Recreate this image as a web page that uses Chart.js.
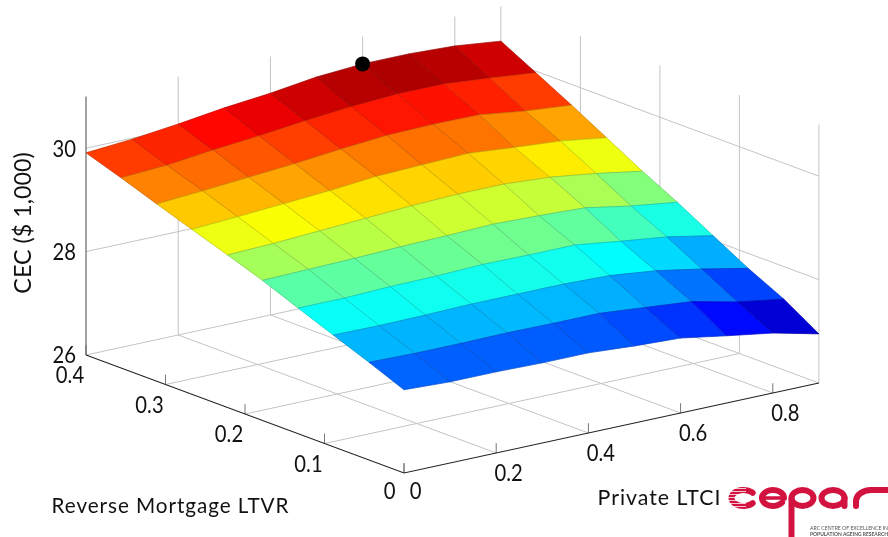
<!DOCTYPE html>
<html>
<head>
<meta charset="utf-8">
<title>CEC surface</title>
<script src="https://cdn.jsdelivr.net/npm/chart.js@4/dist/chart.umd.min.js"></script>
<style>
html, body { margin: 0; padding: 0; background: #fff; }
canvas { display: block; }
</style>
</head>
<body>
<canvas id="surf" width="888" height="537"></canvas>
<script>
// values
const ltciValues = [0, 0.1, 0.2, 0.3, 0.4, 0.5, 0.6, 0.7, 0.8, 0.9];
const ltvrValues = [0, 0.044, 0.089, 0.133, 0.178, 0.222, 0.267, 0.311, 0.356, 0.4];
// one row per LTVR value, one column per LTCI value
const cec0 = [27.61, 27.57, 27.57, 27.55, 27.55, 27.49, 27.45, 27.30, 27.16, 26.95];
const cec1 = [27.89, 27.87, 27.87, 27.88, 27.87, 27.87, 27.79, 27.71, 27.51, 27.37];
const cec2 = [28.16, 28.15, 28.16, 28.18, 28.18, 28.18, 28.15, 28.05, 27.89, 27.71];
const cec3 = [28.43, 28.43, 28.46, 28.47, 28.50, 28.49, 28.49, 28.37, 28.26, 28.09];
const cec4 = [28.71, 28.73, 28.75, 28.78, 28.80, 28.83, 28.80, 28.76, 28.60, 28.48];
const cec5 = [28.95, 28.98, 29.03, 29.08, 29.13, 29.16, 29.16, 29.10, 28.98, 28.83];
const cec6 = [29.19, 29.24, 29.30, 29.36, 29.44, 29.47, 29.50, 29.42, 29.35, 29.22];
const cec7 = [29.43, 29.49, 29.56, 29.63, 29.72, 29.79, 29.81, 29.80, 29.68, 29.60];
const cec8 = [29.68, 29.73, 29.83, 29.91, 30.01, 30.09, 30.14, 30.14, 30.06, 29.97];
const cec9 = [29.91, 29.98, 30.08, 30.20, 30.29, 30.41, 30.47, 30.47, 30.43, 30.33];
const cecRows = [cec0, cec1, cec2, cec3, cec4, cec5, cec6, cec7, cec8, cec9];

const optimum = [0.6, 0.4, 30.47]; // ltci, ltvr, cec

const ltciTicks = [0, 0.2, 0.4, 0.6, 0.8];
const ltvrTicks = [0, 0.1, 0.2, 0.3, 0.4];
const cecTicks = [26, 28, 30];
const ltciLabels = ['0', '0.2', '0.4', '0.6', '0.8'];
const ltvrLabels = ['0', '0.1', '0.2', '0.3', '0.4'];
const cecLabels = ['26', '28', '30'];

const ltciMax = 0.9, ltvrMax = 0.4, cecMin = 26, cecMax = 31;

// fixed view of the 3d box, gives values on the hidden x and y scales
function proj(ltci, ltvr, z) {
    return {
        x: 404 + 461 * ltci - 795 * ltvr,
        y: 473 - 100 * ltci - 295 * ltvr - 51.7 * (z - cecMin)
    };
}

// jet colormap
const jetStops = [[0, 0, 0, 0.5], [0.125, 0, 0, 1], [0.375, 0, 1, 1], [0.625, 1, 1, 0], [0.875, 1, 0, 0], [1, 0.5, 0, 0]];
function jet(t, dim) {
    t = Math.max(0, Math.min(1, t));
    let k = 0;
    while (k < jetStops.length - 2 && t > jetStops[k + 1][0]) k++;
    const a = jetStops[k], b = jetStops[k + 1];
    const f = (t - a[0]) / (b[0] - a[0]);
    const c = [1, 2, 3].map(n => Math.round((a[n] + (b[n] - a[n]) * f) * 255 * dim));
    return `rgb(${c[0]},${c[1]},${c[2]})`;
}

const allCec = cecRows.flat();
const colMin = Math.min(...allCec), colMax = Math.max(...allCec);

// Chart.js paints dataset 0 last, so everything goes in front-to-back
const datasets = [];

function addLine(points, color, width) {
    datasets.push({
        data: points.map(p => proj(p[0], p[1], p[2])),
        showLine: true, fill: false, tension: 0, pointRadius: 0,
        borderColor: color, borderWidth: width
    });
}

// optimum marker
datasets.push({
    data: [proj(optimum[0], optimum[1], optimum[2])],
    pointRadius: 7.5, pointBackgroundColor: '#000', pointBorderWidth: 0, showLine: false
});

// surface cells, nearest row first
for (let j = 0; j < ltvrValues.length - 1; j++) {
    for (let i = ltciValues.length - 2; i >= 0; i--) {
        const corners = [[i, j], [i + 1, j], [i + 1, j + 1], [i, j + 1], [i, j]];
        const mean = (cecRows[j][i] + cecRows[j][i + 1] + cecRows[j + 1][i + 1] + cecRows[j + 1][i]) / 4;
        const t = (mean - colMin) / (colMax - colMin);
        datasets.push({
            data: corners.map(c => proj(ltciValues[c[0]], ltvrValues[c[1]], cecRows[c[1]][c[0]])),
            showLine: true, tension: 0, pointRadius: 0, fill: 'shape',
            backgroundColor: jet(t, 1), borderColor: jet(t, 0.78), borderWidth: 0.7
        });
    }
}

// front axes and their ticks
const axisCol = '#222', tickCol = '#777', gridCol = '#c4c4c4';
addLine([[0, ltvrMax, cecMin], [0, 0, cecMin], [ltciMax, 0, cecMin]], axisCol, 1.1);
addLine([[0, ltvrMax, cecMin], [0, ltvrMax, cecMax]], '#666', 1.2);
ltciTicks.forEach(v => addLine([[v, 0, cecMin], [v, 0, cecMin + 0.19]], tickCol, 1));
ltvrTicks.forEach(v => addLine([[0, v, cecMin], [0, v, cecMin + 0.19]], tickCol, 1));

// grid on the floor and the two back walls
ltciTicks.slice(1).forEach(v => addLine([[v, 0, cecMin], [v, ltvrMax, cecMin], [v, ltvrMax, cecMax]], gridCol, 1));
ltvrTicks.slice(1, 4).forEach(v => addLine([[0, v, cecMin], [ltciMax, v, cecMin], [ltciMax, v, cecMax]], gridCol, 1));
cecTicks.forEach(z => addLine([[0, ltvrMax, z], [ltciMax, ltvrMax, z], [ltciMax, 0, z]], gridCol, 1));
addLine([[ltciMax, ltvrMax, cecMin], [ltciMax, ltvrMax, cecMax]], gridCol, 1);
addLine([[ltciMax, 0, cecMin], [ltciMax, 0, cecMax]], gridCol, 1);

// text squeezed to the narrow look of the original sans font
const labelFont = 'Lato, "Noto Sans", sans-serif';
function putText(ctx, text, cx, cy, size, squeeze, angle, align, spacing) {
    ctx.save();
    ctx.translate(cx, cy);
    if (angle) ctx.rotate(angle);
    ctx.scale(squeeze, 1);
    ctx.font = `${size}px ${labelFont}`;
    ctx.letterSpacing = (spacing || 0) + 'px';
    ctx.fillStyle = '#111';
    ctx.textAlign = align || 'center';
    ctx.textBaseline = 'middle';
    ctx.fillText(text, 0, 0);
    ctx.restore();
}

function drawLogo(ctx) {
    const red = '#d2123f';
    ctx.save();
    ctx.strokeStyle = red;
    ctx.lineWidth = 6;
    ctx.lineCap = 'round';
    // c
    ctx.beginPath();
    ctx.ellipse(743.5, 498, 12, 8, 0, 0.7, Math.PI * 2 - 0.7);
    ctx.stroke();
    // e
    ctx.beginPath();
    ctx.ellipse(773, 498, 11, 8, 0, 0.6, Math.PI * 2);
    ctx.stroke();
    ctx.lineWidth = 3.5;
    ctx.beginPath();
    ctx.moveTo(765, 498); ctx.lineTo(783, 498);
    ctx.stroke();
    // p
    ctx.lineWidth = 6;
    ctx.beginPath();
    ctx.ellipse(802.5, 498, 11, 8, 0, 0, Math.PI * 2);
    ctx.stroke();
    ctx.lineCap = 'butt';
    ctx.beginPath();
    ctx.moveTo(791.5, 498); ctx.lineTo(791.5, 537);
    ctx.stroke();
    // a
    ctx.beginPath();
    ctx.ellipse(833, 498, 11.5, 8, 0, 0, Math.PI * 2);
    ctx.stroke();
    ctx.lineCap = 'round';
    ctx.beginPath();
    ctx.moveTo(844.5, 498); ctx.lineTo(844.5, 506);
    ctx.stroke();
    // r
    ctx.beginPath();
    ctx.moveTo(856, 506);
    ctx.lineTo(856, 501);
    ctx.ellipse(871, 501, 15, 11, 0, Math.PI, Math.PI * 1.5);
    ctx.lineTo(888, 490);
    ctx.stroke();
    // stripes across the c
    ctx.fillStyle = 'rgba(255,255,255,0.75)';
    for (let y = 488; y < 510; y += 3) ctx.fillRect(728, y, 18, 1);
    ctx.restore();
    putSmall(ctx, 'ARC CENTRE OF EXCELLENCE IN', 810, 528, 'normal');
    putSmall(ctx, 'POPULATION AGEING RESEARCH', 810, 534, 'bold');
}

function putSmall(ctx, text, x, y, weight) {
    ctx.save();
    ctx.fillStyle = '#555';
    ctx.textAlign = 'left';
    ctx.textBaseline = 'middle';
    ctx.font = `${weight} 6px ${labelFont}`;
    ctx.translate(x, y);
    ctx.scale(78 / ctx.measureText(text).width, 1);
    ctx.fillText(text, 0, 0);
    ctx.restore();
}

const axisText = {
    id: 'axisText',
    afterDraw(chart) {
        const ctx = chart.ctx;
        const sx = chart.scales.x, sy = chart.scales.y;
        const at = (p, dx, dy) => [sx.getPixelForValue(p.x) + dx, sy.getPixelForValue(p.y) + dy];

        ltciLabels.forEach((txt, n) => {
            const pos = at(proj(ltciTicks[n], 0, cecMin), n === 0 ? 11.5 : 12.5, n === 0 ? 19 : 21);
            putText(ctx, txt, pos[0], pos[1], 23, 0.88);
        });
        ltvrLabels.forEach((txt, n) => {
            const pos = at(proj(0, ltvrTicks[n], cecMin), n === 0 ? -14.5 : -16, n === 0 ? 19 : 21);
            putText(ctx, txt, pos[0], pos[1], 23, 0.88);
        });
        cecLabels.forEach((txt, n) => {
            const pos = at(proj(0, ltvrMax, cecTicks[n]), -10, 1);
            putText(ctx, txt, pos[0], pos[1], 23, 0.88, 0, 'right');
        });

        putText(ctx, 'Reverse Mortgage LTVR', 170.5, 506, 22, 0.94, 0, 'center', 1);
        putText(ctx, 'Private LTCI', 659.5, 498, 22, 0.97, 0, 'center', 1);
        putText(ctx, 'CEC ($ 1,000)', 23, 223, 24, 0.97, -Math.PI / 2);
        drawLogo(ctx);
    }
};

new Chart(document.getElementById('surf'), {
    type: 'scatter',
    data: { datasets: datasets },
    options: {
        responsive: false,
        animation: false,
        layout: { padding: 0, autoPadding: false },
        plugins: { legend: { display: false }, tooltip: { enabled: false } },
        scales: {
            x: { type: 'linear', display: false, min: 0, max: 888 },
            y: { type: 'linear', display: false, min: 0, max: 537, reverse: true }
        }
    },
    plugins: [axisText]
});
</script>
</body>
</html>
